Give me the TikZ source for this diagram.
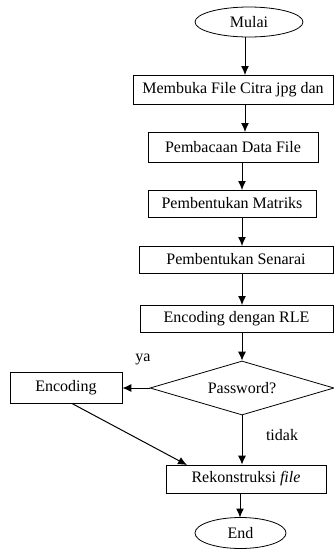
\documentclass[tikz,border=0pt]{standalone}
\usepackage{fontspec}
\setmainfont{Liberation Serif}
\usetikzlibrary{shapes.geometric,arrows.meta}
\begin{document}
\begin{tikzpicture}[x=1pt,y=-1pt,
  every node/.style={font=\fontsize{16}{18}\selectfont, inner sep=0pt},
  proc/.style={draw, rectangle, line width=0.8pt},
  term/.style={draw, ellipse, line width=0.8pt},
  dec/.style={draw, diamond, line width=0.8pt},
  conn/.style={line width=1pt, -{Latex[length=9pt,width=8pt]}},
  lbl/.style={}]
\useasboundingbox (0,0) rectangle (334,550);
\node[term, minimum width=108pt, minimum height=30pt] (start) at (249,22) {Mulai};
\node[proc, minimum width=200pt, minimum height=29pt] (b1) at (233,89.5) {Membuka File Citra jpg dan};
\node[proc, minimum width=170pt, minimum height=30pt] (b2) at (233,147) {Pembacaan Data File};
\node[proc, minimum width=168pt, minimum height=27pt] (b3) at (232,203.5) {Pembentukan Matriks};
\node[proc, minimum width=194pt, minimum height=27pt] (b4) at (236,259.5) {Pembentukan Senarai};
\node[proc, minimum width=193pt, minimum height=27pt] (b5) at (236.5,318.5) {Encoding dengan RLE};
\node[dec, minimum width=184pt, minimum height=54pt, aspect=3.4] (pw) at (242,388) {Password?};
\node[proc, minimum width=112pt, minimum height=31pt] (enc) at (66,388) {Encoding};
\node[proc, minimum width=160pt, minimum height=28pt] (rek) at (246,479) {Rekonstruksi \textit{file}};
\node[term, minimum width=91pt, minimum height=31pt] (end) at (240.5,533) {End};
\node[lbl] (ya) at (143,359) {ya};
\node[lbl] (tidak) at (282,435) {tidak};
\coordinate (encout) at (72,403.5);
\coordinate (rekin) at (187,465);
\draw[conn] (245,37) -- (245,75);
\draw[conn] (245,104) -- (245,132);
\draw[conn] (242,162) -- (242,190);
\draw[conn] (242,217) -- (242,246);
\draw[conn] (242,273) -- (242,305);
\draw[conn] (242,332) -- (pw.north);
\draw[conn] (pw.west) -- (enc.east);
\draw[conn] (pw.south) -- (pw.south |- rek.north);
\draw[conn] (encout) -- (rekin);
\draw[conn] (240,493) -- (240,517.5);
\end{tikzpicture}
\end{document}
